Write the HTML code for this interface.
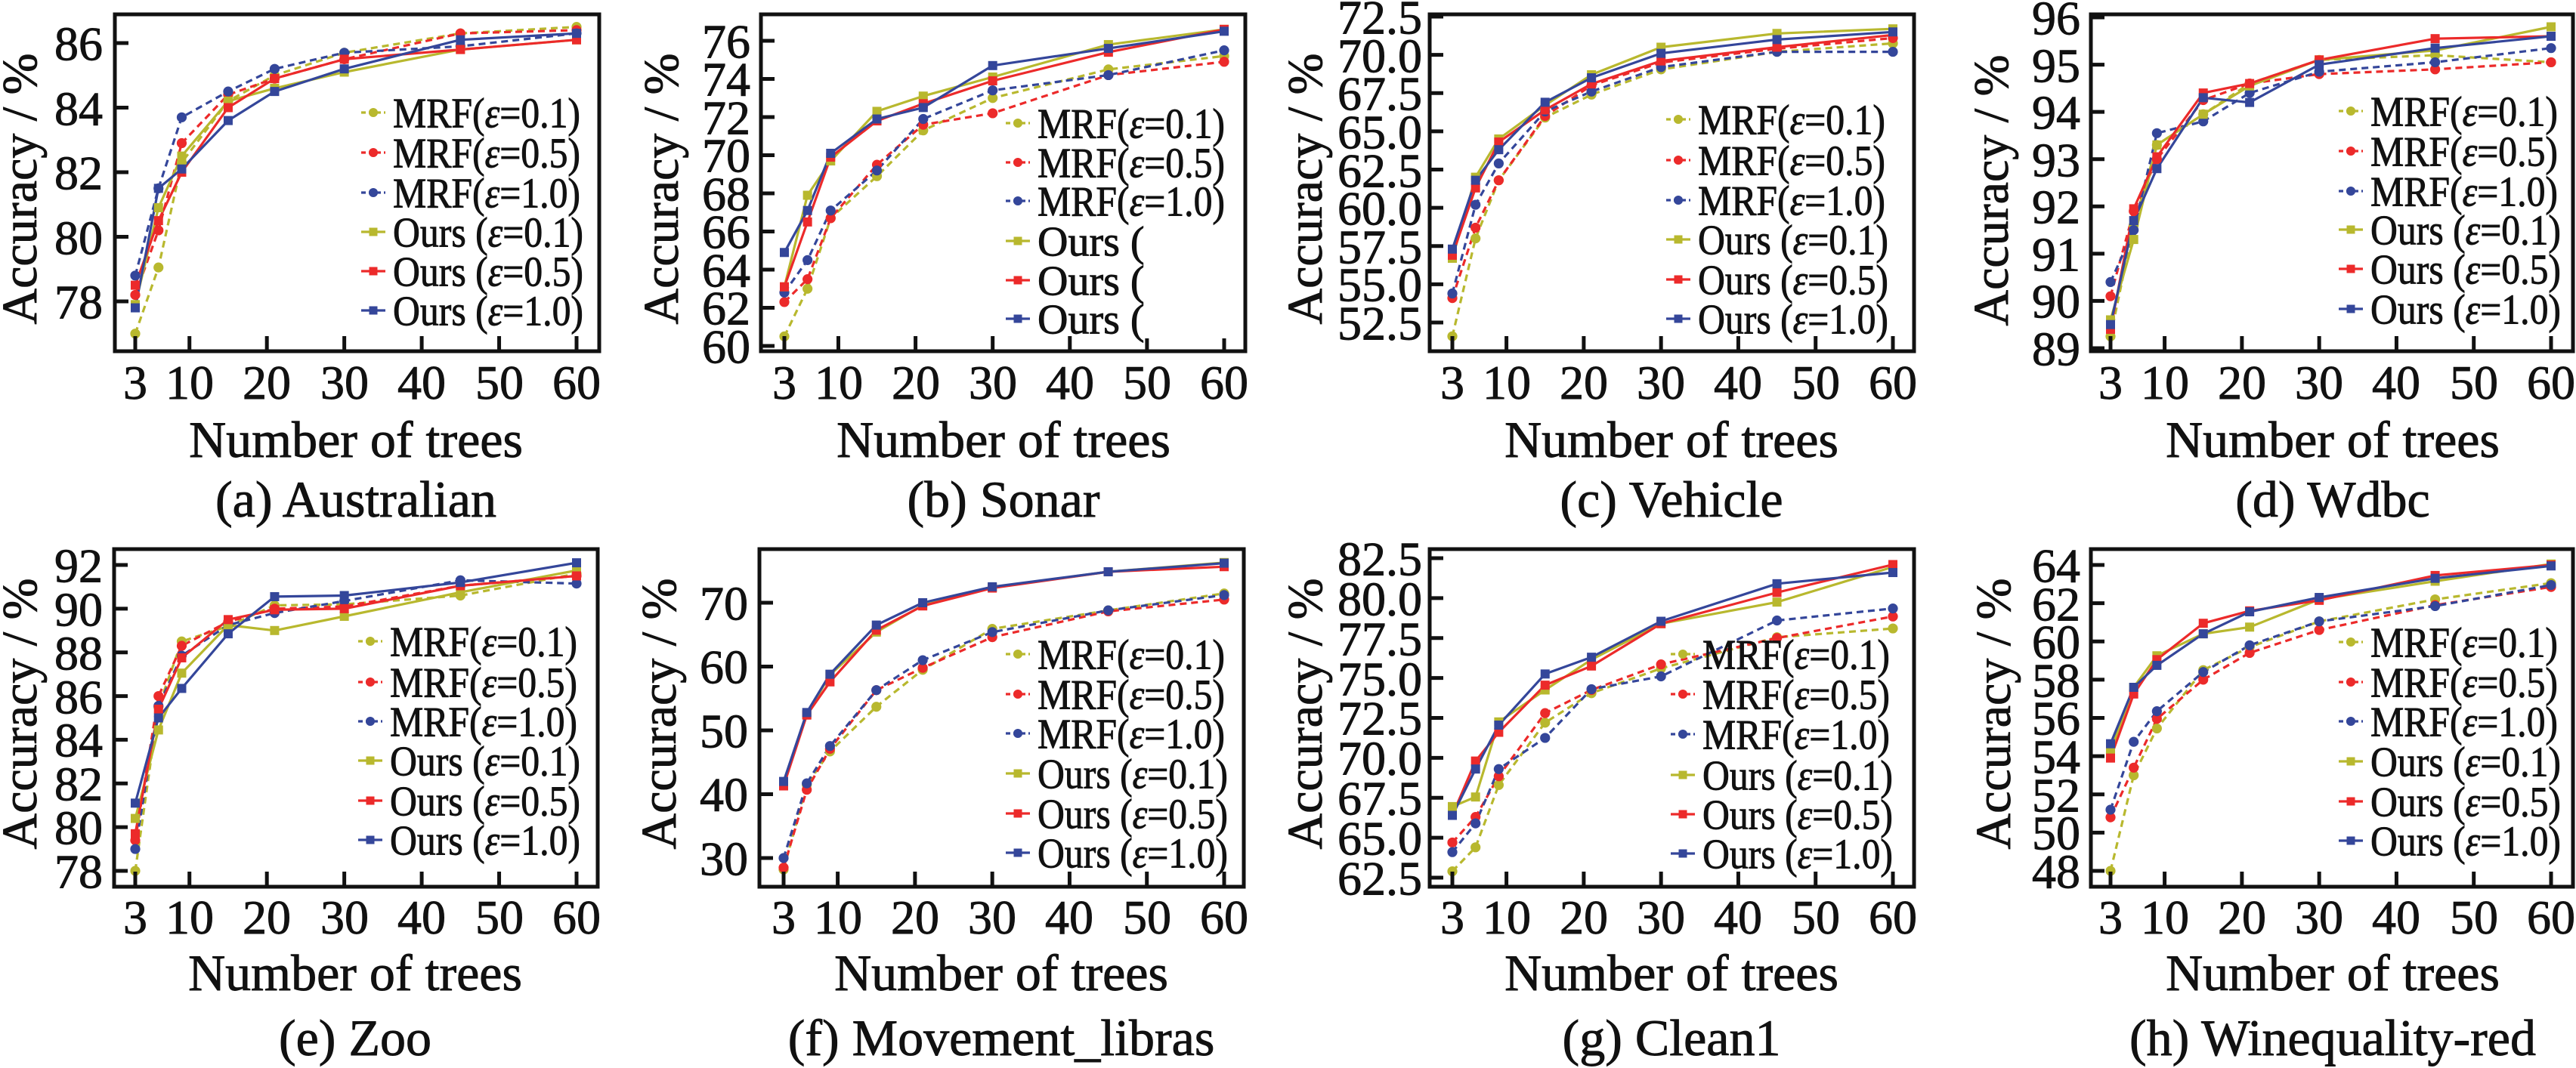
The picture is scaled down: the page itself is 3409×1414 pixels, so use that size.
<!DOCTYPE html>
<html><head><meta charset="utf-8">
<style>
html,body{margin:0;padding:0;background:#fff;}
svg{display:block;}
text{font-family:"Liberation Serif","DejaVu Serif",serif;fill:#111;stroke:#111;stroke-width:0.9px;}
.yt{font-size:64px;text-anchor:end;}
.xt{font-size:64px;text-anchor:middle;}
.xl{font-size:68px;text-anchor:middle;}
.cap{font-size:68px;text-anchor:middle;}
.yl{font-size:66px;text-anchor:middle;}
.lg{font-size:56px;}
</style></head>
<body>
<svg id="s" width="3409" height="1414" viewBox="0 0 3409 1414" xmlns="http://www.w3.org/2000/svg">
<rect width="3409" height="1414" fill="#fff"/>
<g id="geo"></g>
<g id="txt">
<g class="yt"><text x="136" y="57" dy="0.35em">86</text><text x="136" y="143" dy="0.35em">84</text><text x="136" y="228" dy="0.35em">82</text><text x="136" y="314" dy="0.35em">80</text><text x="136" y="399" dy="0.35em">78</text></g>
<g class="xt"><text x="179" y="528">3</text><text x="251" y="528">10</text><text x="353" y="528">20</text><text x="456" y="528">30</text><text x="558" y="528">40</text><text x="661" y="528">50</text><text x="763" y="528">60</text></g>
<text class="xl" x="471" y="605">Number of trees</text>
<text class="cap" x="471" y="684">(a) Australian</text>
<text class="yl" transform="translate(25,250) rotate(-90)" dy="0.35em">Accuracy / %</text>
<g class="yt"><text x="993" y="54" dy="0.35em">76</text><text x="993" y="104" dy="0.35em">74</text><text x="993" y="155" dy="0.35em">72</text><text x="993" y="205" dy="0.35em">70</text><text x="993" y="256" dy="0.35em">68</text><text x="993" y="306" dy="0.35em">66</text><text x="993" y="357" dy="0.35em">64</text><text x="993" y="407" dy="0.35em">62</text><text x="993" y="458" dy="0.35em">60</text></g>
<g class="xt"><text x="1038" y="528">3</text><text x="1110" y="528">10</text><text x="1212" y="528">20</text><text x="1314" y="528">30</text><text x="1416" y="528">40</text><text x="1518" y="528">50</text><text x="1620" y="528">60</text></g>
<text class="xl" x="1328" y="605">Number of trees</text>
<text class="cap" x="1328" y="684">(b) Sonar</text>
<text class="yl" transform="translate(874,250) rotate(-90)" dy="0.35em">Accuracy / %</text>
<g class="yt"><text x="1882" y="22" dy="0.35em">72.5</text><text x="1882" y="73" dy="0.35em">70.0</text><text x="1882" y="123" dy="0.35em">67.5</text><text x="1882" y="174" dy="0.35em">65.0</text><text x="1882" y="225" dy="0.35em">62.5</text><text x="1882" y="275" dy="0.35em">60.0</text><text x="1882" y="326" dy="0.35em">57.5</text><text x="1882" y="376" dy="0.35em">55.0</text><text x="1882" y="427" dy="0.35em">52.5</text></g>
<g class="xt"><text x="1922" y="528">3</text><text x="1994" y="528">10</text><text x="2096" y="528">20</text><text x="2198" y="528">30</text><text x="2300" y="528">40</text><text x="2403" y="528">50</text><text x="2505" y="528">60</text></g>
<text class="xl" x="2212" y="605">Number of trees</text>
<text class="cap" x="2212" y="684">(c) Vehicle</text>
<text class="yl" transform="translate(1726,250) rotate(-90)" dy="0.35em">Accuracy / %</text>
<g class="yt"><text x="2753" y="23" dy="0.35em">96</text><text x="2753" y="86" dy="0.35em">95</text><text x="2753" y="148" dy="0.35em">94</text><text x="2753" y="211" dy="0.35em">93</text><text x="2753" y="273" dy="0.35em">92</text><text x="2753" y="336" dy="0.35em">91</text><text x="2753" y="398" dy="0.35em">90</text><text x="2753" y="461" dy="0.35em">89</text></g>
<g class="xt"><text x="2793" y="528">3</text><text x="2865" y="528">10</text><text x="2967" y="528">20</text><text x="3069" y="528">30</text><text x="3171" y="528">40</text><text x="3274" y="528">50</text><text x="3376" y="528">60</text></g>
<text class="xl" x="3087" y="605">Number of trees</text>
<text class="cap" x="3087" y="684">(d) Wdbc</text>
<text class="yl" transform="translate(2634,252) rotate(-90)" dy="0.35em">Accuracy / %</text>
<g class="yt"><text x="136" y="748" dy="0.35em">92</text><text x="136" y="806" dy="0.35em">90</text><text x="136" y="864" dy="0.35em">88</text><text x="136" y="922" dy="0.35em">86</text><text x="136" y="979" dy="0.35em">84</text><text x="136" y="1037" dy="0.35em">82</text><text x="136" y="1095" dy="0.35em">80</text><text x="136" y="1153" dy="0.35em">78</text></g>
<g class="xt"><text x="179" y="1236">3</text><text x="251" y="1236">10</text><text x="353" y="1236">20</text><text x="456" y="1236">30</text><text x="558" y="1236">40</text><text x="661" y="1236">50</text><text x="763" y="1236">60</text></g>
<text class="xl" x="470" y="1311">Number of trees</text>
<text class="cap" x="470" y="1397">(e) Zoo</text>
<text class="yl" transform="translate(25,945) rotate(-90)" dy="0.35em">Accuracy / %</text>
<g class="yt"><text x="990" y="798" dy="0.35em">70</text><text x="990" y="882" dy="0.35em">60</text><text x="990" y="967" dy="0.35em">50</text><text x="990" y="1051" dy="0.35em">40</text><text x="990" y="1136" dy="0.35em">30</text></g>
<g class="xt"><text x="1037" y="1236">3</text><text x="1109" y="1236">10</text><text x="1211" y="1236">20</text><text x="1313" y="1236">30</text><text x="1415" y="1236">40</text><text x="1518" y="1236">50</text><text x="1620" y="1236">60</text></g>
<text class="xl" x="1325" y="1311">Number of trees</text>
<text class="cap" x="1325" y="1397">(f) Movement_libras</text>
<text class="yl" transform="translate(871,945) rotate(-90)" dy="0.35em">Accuracy / %</text>
<g class="yt"><text x="1882" y="739" dy="0.35em">82.5</text><text x="1882" y="792" dy="0.35em">80.0</text><text x="1882" y="845" dy="0.35em">77.5</text><text x="1882" y="898" dy="0.35em">75.0</text><text x="1882" y="950" dy="0.35em">72.5</text><text x="1882" y="1003" dy="0.35em">70.0</text><text x="1882" y="1056" dy="0.35em">67.5</text><text x="1882" y="1109" dy="0.35em">65.0</text><text x="1882" y="1162" dy="0.35em">62.5</text></g>
<g class="xt"><text x="1922" y="1236">3</text><text x="1994" y="1236">10</text><text x="2096" y="1236">20</text><text x="2198" y="1236">30</text><text x="2300" y="1236">40</text><text x="2403" y="1236">50</text><text x="2505" y="1236">60</text></g>
<text class="xl" x="2212" y="1311">Number of trees</text>
<text class="cap" x="2212" y="1397">(g) Clean1</text>
<text class="yl" transform="translate(1726,945) rotate(-90)" dy="0.35em">Accuracy / %</text>
<g class="yt"><text x="2753" y="748" dy="0.35em">64</text><text x="2753" y="799" dy="0.35em">62</text><text x="2753" y="849" dy="0.35em">60</text><text x="2753" y="900" dy="0.35em">58</text><text x="2753" y="950" dy="0.35em">56</text><text x="2753" y="1001" dy="0.35em">54</text><text x="2753" y="1052" dy="0.35em">52</text><text x="2753" y="1102" dy="0.35em">50</text><text x="2753" y="1153" dy="0.35em">48</text></g>
<g class="xt"><text x="2793" y="1236">3</text><text x="2865" y="1236">10</text><text x="2967" y="1236">20</text><text x="3069" y="1236">30</text><text x="3171" y="1236">40</text><text x="3274" y="1236">50</text><text x="3376" y="1236">60</text></g>
<text class="xl" x="3087" y="1311">Number of trees</text>
<text class="cap" x="3087" y="1397">(h) Winequality-red</text>
<text class="yl" transform="translate(2637,945) rotate(-90)" dy="0.35em">Accuracy / %</text>
</g>
<g id="legtxt" class="lg">
<text x="520" y="149" dy="0.35em" textLength="248" lengthAdjust="spacingAndGlyphs">MRF(<tspan font-style="italic">ε</tspan>=0.1)</text>
<text x="520" y="202" dy="0.35em" textLength="248" lengthAdjust="spacingAndGlyphs">MRF(<tspan font-style="italic">ε</tspan>=0.5)</text>
<text x="520" y="255" dy="0.35em" textLength="248" lengthAdjust="spacingAndGlyphs">MRF(<tspan font-style="italic">ε</tspan>=1.0)</text>
<text x="520" y="307" dy="0.35em" textLength="252" lengthAdjust="spacingAndGlyphs">Ours (<tspan font-style="italic">ε</tspan>=0.1)</text>
<text x="520" y="359" dy="0.35em" textLength="252" lengthAdjust="spacingAndGlyphs">Ours (<tspan font-style="italic">ε</tspan>=0.5)</text>
<text x="520" y="411" dy="0.35em" textLength="252" lengthAdjust="spacingAndGlyphs">Ours (<tspan font-style="italic">ε</tspan>=1.0)</text>
<text x="1373" y="163" dy="0.35em" textLength="248" lengthAdjust="spacingAndGlyphs">MRF(<tspan font-style="italic">ε</tspan>=0.1)</text>
<text x="1373" y="215" dy="0.35em" textLength="248" lengthAdjust="spacingAndGlyphs">MRF(<tspan font-style="italic">ε</tspan>=0.5)</text>
<text x="1373" y="266" dy="0.35em" textLength="248" lengthAdjust="spacingAndGlyphs">MRF(<tspan font-style="italic">ε</tspan>=1.0)</text>
<text x="1373" y="319" dy="0.35em">Ours (</text>
<text x="1373" y="371" dy="0.35em">Ours (</text>
<text x="1373" y="422" dy="0.35em">Ours (</text>
<text x="2247" y="158" dy="0.35em" textLength="248" lengthAdjust="spacingAndGlyphs">MRF(<tspan font-style="italic">ε</tspan>=0.1)</text>
<text x="2247" y="212" dy="0.35em" textLength="248" lengthAdjust="spacingAndGlyphs">MRF(<tspan font-style="italic">ε</tspan>=0.5)</text>
<text x="2247" y="265" dy="0.35em" textLength="248" lengthAdjust="spacingAndGlyphs">MRF(<tspan font-style="italic">ε</tspan>=1.0)</text>
<text x="2247" y="317" dy="0.35em" textLength="252" lengthAdjust="spacingAndGlyphs">Ours (<tspan font-style="italic">ε</tspan>=0.1)</text>
<text x="2247" y="370" dy="0.35em" textLength="252" lengthAdjust="spacingAndGlyphs">Ours (<tspan font-style="italic">ε</tspan>=0.5)</text>
<text x="2247" y="422" dy="0.35em" textLength="252" lengthAdjust="spacingAndGlyphs">Ours (<tspan font-style="italic">ε</tspan>=1.0)</text>
<text x="3137" y="147" dy="0.35em" textLength="248" lengthAdjust="spacingAndGlyphs">MRF(<tspan font-style="italic">ε</tspan>=0.1)</text>
<text x="3137" y="200" dy="0.35em" textLength="248" lengthAdjust="spacingAndGlyphs">MRF(<tspan font-style="italic">ε</tspan>=0.5)</text>
<text x="3137" y="253" dy="0.35em" textLength="248" lengthAdjust="spacingAndGlyphs">MRF(<tspan font-style="italic">ε</tspan>=1.0)</text>
<text x="3137" y="304" dy="0.35em" textLength="252" lengthAdjust="spacingAndGlyphs">Ours (<tspan font-style="italic">ε</tspan>=0.1)</text>
<text x="3137" y="356" dy="0.35em" textLength="252" lengthAdjust="spacingAndGlyphs">Ours (<tspan font-style="italic">ε</tspan>=0.5)</text>
<text x="3137" y="409" dy="0.35em" textLength="252" lengthAdjust="spacingAndGlyphs">Ours (<tspan font-style="italic">ε</tspan>=1.0)</text>
<text x="516" y="849" dy="0.35em" textLength="248" lengthAdjust="spacingAndGlyphs">MRF(<tspan font-style="italic">ε</tspan>=0.1)</text>
<text x="516" y="903" dy="0.35em" textLength="248" lengthAdjust="spacingAndGlyphs">MRF(<tspan font-style="italic">ε</tspan>=0.5)</text>
<text x="516" y="955" dy="0.35em" textLength="248" lengthAdjust="spacingAndGlyphs">MRF(<tspan font-style="italic">ε</tspan>=1.0)</text>
<text x="516" y="1007" dy="0.35em" textLength="252" lengthAdjust="spacingAndGlyphs">Ours (<tspan font-style="italic">ε</tspan>=0.1)</text>
<text x="516" y="1060" dy="0.35em" textLength="252" lengthAdjust="spacingAndGlyphs">Ours (<tspan font-style="italic">ε</tspan>=0.5)</text>
<text x="516" y="1112" dy="0.35em" textLength="252" lengthAdjust="spacingAndGlyphs">Ours (<tspan font-style="italic">ε</tspan>=1.0)</text>
<text x="1373" y="866" dy="0.35em" textLength="248" lengthAdjust="spacingAndGlyphs">MRF(<tspan font-style="italic">ε</tspan>=0.1)</text>
<text x="1373" y="919" dy="0.35em" textLength="248" lengthAdjust="spacingAndGlyphs">MRF(<tspan font-style="italic">ε</tspan>=0.5)</text>
<text x="1373" y="971" dy="0.35em" textLength="248" lengthAdjust="spacingAndGlyphs">MRF(<tspan font-style="italic">ε</tspan>=1.0)</text>
<text x="1373" y="1024" dy="0.35em" textLength="252" lengthAdjust="spacingAndGlyphs">Ours (<tspan font-style="italic">ε</tspan>=0.1)</text>
<text x="1373" y="1077" dy="0.35em" textLength="252" lengthAdjust="spacingAndGlyphs">Ours (<tspan font-style="italic">ε</tspan>=0.5)</text>
<text x="1373" y="1129" dy="0.35em" textLength="252" lengthAdjust="spacingAndGlyphs">Ours (<tspan font-style="italic">ε</tspan>=1.0)</text>
<text x="2253" y="866" dy="0.35em" textLength="248" lengthAdjust="spacingAndGlyphs">MRF(<tspan font-style="italic">ε</tspan>=0.1)</text>
<text x="2253" y="919" dy="0.35em" textLength="248" lengthAdjust="spacingAndGlyphs">MRF(<tspan font-style="italic">ε</tspan>=0.5)</text>
<text x="2253" y="972" dy="0.35em" textLength="248" lengthAdjust="spacingAndGlyphs">MRF(<tspan font-style="italic">ε</tspan>=1.0)</text>
<text x="2253" y="1026" dy="0.35em" textLength="252" lengthAdjust="spacingAndGlyphs">Ours (<tspan font-style="italic">ε</tspan>=0.1)</text>
<text x="2253" y="1078" dy="0.35em" textLength="252" lengthAdjust="spacingAndGlyphs">Ours (<tspan font-style="italic">ε</tspan>=0.5)</text>
<text x="2253" y="1130" dy="0.35em" textLength="252" lengthAdjust="spacingAndGlyphs">Ours (<tspan font-style="italic">ε</tspan>=1.0)</text>
<text x="3137" y="850" dy="0.35em" textLength="248" lengthAdjust="spacingAndGlyphs">MRF(<tspan font-style="italic">ε</tspan>=0.1)</text>
<text x="3137" y="903" dy="0.35em" textLength="248" lengthAdjust="spacingAndGlyphs">MRF(<tspan font-style="italic">ε</tspan>=0.5)</text>
<text x="3137" y="955" dy="0.35em" textLength="248" lengthAdjust="spacingAndGlyphs">MRF(<tspan font-style="italic">ε</tspan>=1.0)</text>
<text x="3137" y="1008" dy="0.35em" textLength="252" lengthAdjust="spacingAndGlyphs">Ours (<tspan font-style="italic">ε</tspan>=0.1)</text>
<text x="3137" y="1061" dy="0.35em" textLength="252" lengthAdjust="spacingAndGlyphs">Ours (<tspan font-style="italic">ε</tspan>=0.5)</text>
<text x="3137" y="1113" dy="0.35em" textLength="252" lengthAdjust="spacingAndGlyphs">Ours (<tspan font-style="italic">ε</tspan>=1.0)</text>
</g>
</svg>
<script>
(function(){
var NS="http://www.w3.org/2000/svg";
var g=document.getElementById("geo");
function el(n,a){var e=document.createElementNS(NS,n);for(var k in a)e.setAttribute(k,a[k]);g.appendChild(e);return e;}
var C=["#b8b82e","#ec2a2a","#34469a"];
var X=[3,6,9,15,21,30,45,60];
var P=[
{L:152,T:19,R:793,B:465,x3:179,x60:763,v1:86,p1:57,v2:78,p2:399,yt:[86,84,82,80,78],tx:520,rows:[149,202,255,307,359,411],
d:[[77.0,79.05,82.3,84.2,85.0,85.7,86.3,86.5],[78.2,80.2,82.9,84.4,84.9,85.5,86.3,86.4],[78.8,81.5,83.7,84.5,85.2,85.7,85.9,86.3],[77.9,80.9,82.5,84.2,84.6,85.1,85.8,86.1],[78.5,80.5,82.0,84.0,84.9,85.5,85.8,86.1],[77.8,81.5,82.1,83.6,84.5,85.2,86.1,86.3]]},
{L:1007,T:19,R:1648,B:465,x3:1038,x60:1620,v1:76,p1:54,v2:60,p2:458,yt:[76,74,72,70,68,66,64,62,60],tx:1373,rows:[163,215,266,319,371,422],
d:[[60.5,63.0,66.7,68.9,71.3,73.0,74.5,75.2],[62.3,63.5,66.7,69.5,71.6,72.2,74.2,74.9],[62.8,64.5,67.1,69.2,71.9,73.4,74.2,75.5],[63.1,67.9,69.7,72.3,73.1,74.1,75.8,76.6],[63.1,66.5,69.9,71.8,72.7,73.9,75.4,76.6],[64.9,67.1,70.1,71.9,72.5,74.7,75.6,76.5]]},
{L:1892,T:19,R:2533,B:465,x3:1922,x60:2505,v1:72.5,p1:22,v2:52.5,p2:427,yt:[72.5,70,67.5,65,62.5,60,57.5,55,52.5],tx:2247,rows:[158,212,265,317,370,422],
d:[[51.6,58.0,61.8,65.9,67.4,69.05,70.2,70.75],[54.1,58.7,61.8,66.0,68.0,69.5,70.4,71.1],[54.4,60.2,62.9,66.3,67.6,69.2,70.2,70.2],[56.7,62.0,64.5,66.7,68.7,70.5,71.4,71.7],[56.9,61.3,64.3,66.4,68.1,69.6,70.5,71.3],[57.3,61.8,63.8,66.9,68.5,70.1,71.0,71.5]]},
{L:2767,T:19,R:3405,B:465,x3:2793,x60:3376,v1:96,p1:23,v2:89,p2:461,yt:[96,95,94,93,92,91,90,89],tx:3137,rows:[147,200,253,304,356,409],
d:[[89.25,91.6,93.3,93.95,94.6,95.1,95.2,95.05],[90.1,91.9,93.0,94.25,94.6,94.8,94.9,95.05],[90.4,91.5,93.55,93.8,94.4,94.85,95.05,95.35],[89.6,91.3,93.3,93.95,94.55,95.1,95.3,95.8],[89.4,91.95,93.05,94.4,94.6,95.1,95.55,95.6],[89.5,91.7,92.8,94.3,94.2,95.0,95.35,95.6]]},
{L:151,T:727,R:791,B:1174,x3:179,x60:763,v1:92,p1:748,v2:78,p2:1153,yt:[92,90,88,86,84,82,80,78],tx:516,rows:[849,903,955,1007,1060,1112],
d:[[78.0,85.5,88.5,89.2,90.15,90.2,90.6,91.6],[79.4,86.0,88.3,89.4,90.0,90.1,91.05,91.5],[79.0,85.55,87.85,89.25,89.8,90.35,91.3,91.15],[80.4,84.45,87.05,89.25,89.0,89.65,90.75,91.75],[79.7,85.4,87.75,89.5,89.95,90.0,91.05,91.5],[81.1,85.0,86.35,88.85,90.55,90.6,91.2,92.1]]},
{L:1005,T:727,R:1646,B:1174,x3:1037,x60:1620,v1:70,p1:798,v2:30,p2:1136,yt:[70,60,50,40,30],tx:1373,rows:[866,919,971,1024,1077,1129],
d:[[28.2,41.5,46.7,53.7,59.5,65.9,68.8,71.45],[28.5,40.7,47.1,56.3,59.8,64.6,68.65,70.5],[30.0,41.7,47.55,56.3,61.0,65.4,68.8,71.2],[41.5,52.5,58.7,65.4,69.6,72.4,74.85,76.3],[41.3,52.4,57.6,65.7,69.5,72.3,74.85,75.65],[42.0,52.8,58.8,66.5,70.0,72.5,74.85,76.2]]},
{L:1892,T:727,R:2533,B:1174,x3:1922,x60:2505,v1:82.5,p1:739,v2:62.5,p2:1162,yt:[82.5,80,77.5,75,72.5,70,67.5,65,62.5],tx:2253,rows:[866,919,972,1026,1078,1130],
d:[[62.9,64.4,68.3,72.2,74.05,75.6,77.55,78.1],[64.7,66.3,68.85,72.8,74.25,75.85,77.5,78.85],[64.1,65.9,69.3,71.25,74.3,75.1,78.6,79.35],[66.95,67.55,72.25,74.25,76.15,78.4,79.75,81.95],[66.4,69.8,71.6,74.55,75.75,78.4,80.35,82.1],[66.4,69.3,72.05,75.25,76.3,78.55,80.9,81.6]]},
{L:2767,T:727,R:3405,B:1174,x3:2793,x60:3376,v1:64,p1:748,v2:48,p2:1153,yt:[64,62,60,58,56,54,52,50,48],tx:3137,rows:[850,903,955,1008,1061,1113],
d:[[48.0,53.0,55.45,58.5,59.7,61.05,62.2,63.05],[50.8,53.4,55.95,58.0,59.4,60.6,61.9,62.85],[51.2,54.75,56.35,58.4,59.8,61.05,61.85,62.95],[54.25,57.6,59.25,60.4,60.75,62.2,63.15,64.05],[53.9,57.25,59.05,60.95,61.6,62.15,63.45,64.0],[54.65,57.6,58.75,60.4,61.55,62.3,63.3,63.95]]}
];
function mk(x,y,i,sz){
 var c=C[i%3];
 if(i<3) el("circle",{cx:x,cy:y,r:sz*0.55,fill:c});
 else el("rect",{x:x-sz/2,y:y-sz/2,width:sz,height:sz,fill:c});
}
P.forEach(function(p,pi){
 var fx=function(v){return p.x3+(v-3)*(p.x60-p.x3)/57;};
 var fy=function(v){return p.p1+(v-p.v1)*(p.p2-p.p1)/(p.v2-p.v1);};
 var order=[0,1,2,3,4,5];
 order.forEach(function(i){
  var pts=p.d[i].map(function(v,k){return fx(X[k]).toFixed(1)+","+fy(v).toFixed(1);}).join(" ");
  var a={points:pts,fill:"none",stroke:C[i%3],"stroke-width":3.2,"stroke-linejoin":"round"};
  if(i<3)a["stroke-dasharray"]="9,6";
  el("polyline",a);
 });
 order.forEach(function(i){p.d[i].forEach(function(v,k){mk(fx(X[k]),fy(v),i,12);});});
 el("rect",{x:p.L,y:p.T,width:p.R-p.L,height:p.B-p.T,fill:"none",stroke:"#111","stroke-width":5});
 p.yt.forEach(function(v){var y=fy(v);el("line",{x1:p.L,y1:y,x2:p.L+18,y2:y,stroke:"#111","stroke-width":5});});
 [3,10,20,30,40,50,60].forEach(function(v){var x=fx(v);el("line",{x1:x,y1:p.B,x2:x,y2:p.B-20,stroke:"#111","stroke-width":5});});
 p.rows.forEach(function(y,i){
  var x2=p.tx-10,x1=p.tx-42;
  var a={x1:x1,y1:y,x2:x2,y2:y,stroke:C[i%3],"stroke-width":3.2};
  if(i<3)a["stroke-dasharray"]="6,4";
  el("line",a);
  mk((x1+x2)/2,y,i,11);
 });
 if(pi===1){el("rect",{x:1492,y:298,width:153,height:150,fill:"#fff"});}
});
})();
</script>
</body></html>
